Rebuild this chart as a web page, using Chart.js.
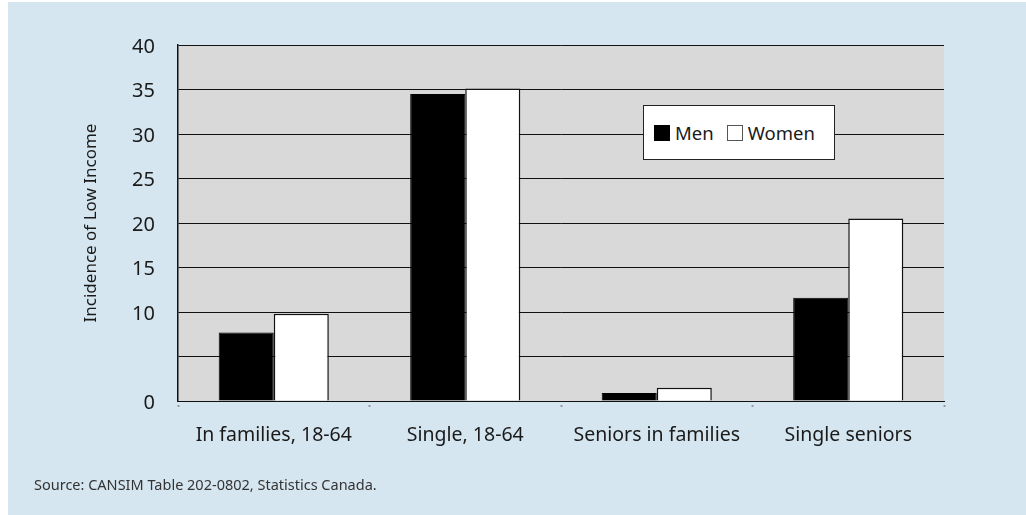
<!DOCTYPE html>
<html>
<head>
<meta charset="utf-8">
<script src="https://cdn.jsdelivr.net/npm/chart.js@4"></script>
<style>
  html, body { margin: 0; padding: 0; background: #fff; }
  body { width: 1026px; height: 515px; position: relative; overflow: hidden; font-family: "Noto Sans", sans-serif; }
  #panel { position: absolute; left: 8px; top: 2px; width: 1018px; height: 513px; background: #d5e6f0; }
  #wrap { position: absolute; left: 0; top: 0; width: 1026px; height: 515px; }
  #legend {
    position: absolute; left: 643px; top: 105px; width: 190px; height: 53px;
    background: #fff; border: 1.5px solid #222; display: flex; align-items: center;
    font-size: 18.5px; color: #1a1a1a;
  }
  .item { display: flex; align-items: center; margin-left: 10px; }
  .item + .item { margin-left: 13px; }
  .sw { width: 16px; height: 16px; box-sizing: border-box; margin-right: 5px; }
  #source { position: absolute; left: 34px; top: 474px; font-size: 14.5px; color: #333; }
</style>
</head>
<body>
<div id="panel"></div>
<div id="wrap"><canvas id="myChart" width="1026" height="515"></canvas></div>
<div id="legend"></div>
<div id="source">Source: CANSIM Table 202-0802, Statistics Canada.</div>
<script>
const categories = ["In families, 18-64", "Single, 18-64", "Seniors in families", "Single seniors"];
const seriesNames = ["Men", "Women"];
const menValues = [7.7, 34.5, 0.9, 11.6];
const womenValues = [9.8, 35.1, 1.5, 20.5];
const yTickValues = [0, 5, 10, 15, 20, 25, 30, 35, 40];
const yTickLabels = ["0", "", "10", "15", "20", "25", "30", "35", "40"];
const fillColors = ["#000000", "#ffffff"];

const plotBg = {
  id: 'plotBg',
  beforeDraw(chart) {
    const { ctx, chartArea } = chart;
    ctx.save();
    ctx.fillStyle = '#d9d9d9';
    ctx.fillRect(chartArea.left, chartArea.top, chartArea.right - chartArea.left, chartArea.bottom - chartArea.top);
    ctx.restore();
  }
};

const family = '"Noto Sans", sans-serif';

const data = {
  labels: categories,
  datasets: [{
    label: seriesNames[0],
    data: menValues,
    backgroundColor: fillColors[0],
    borderColor: '#000',
    borderWidth: 1
  },
  {
    label: seriesNames[1],
    data: womenValues,
    backgroundColor: fillColors[1],
    borderColor: '#111',
    borderWidth: 1.5
  }]
};

const config = {
  type: 'bar',
  data,
  plugins: [plotBg],
  options: {
    responsive: false,
    animation: false,
    layout: { padding: { left: 80, right: 82, top: 45, bottom: 0 } },
    datasets: { bar: { categoryPercentage: 0.575, barPercentage: 1 } },
    plugins: { legend: { display: false }, tooltip: { enabled: false } },
    scales: {
      x: {
        afterFit: s => { s.height = 114; },
        grid: { offset: true, drawOnChartArea: false, drawTicks: true, tickLength: 6, tickColor: '#999', tickWidth: 2, tickBorderDash: [0, 3, 3] },
        border: { display: true, color: '#111', width: 1 },
        ticks: { color: '#1a1a1a', font: { family, size: 19.5 }, padding: 17 }
      },
      y: {
        min: 0,
        max: 40,
        afterFit: s => { s.width = 98; },
        afterBuildTicks: s => { s.ticks = yTickValues.map(v => ({ value: v })); },
        grid: { color: '#111', lineWidth: 1, drawTicks: false },
        border: { display: true, color: '#111', width: 1.5 },
        ticks: {
          color: '#1a1a1a', font: { family, size: 20 }, padding: 23, labelOffset: 2,
          callback: (v) => yTickLabels[yTickValues.indexOf(v)] ?? ''
        },
        title: { display: true, text: 'Incidence of Low Income', color: '#1a1a1a', font: { family, size: 17 }, padding: { top: 1, bottom: 0 } }
      }
    }
  }
};

new Chart(document.getElementById('myChart'), config);

const legend = document.getElementById('legend');
seriesNames.forEach((name, i) => {
  const item = document.createElement('div');
  item.className = 'item';
  const sw = document.createElement('div');
  sw.className = 'sw';
  sw.style.background = fillColors[i];
  sw.style.border = i === 0 ? '1px solid #000' : '1px solid #555';
  const t = document.createElement('span');
  t.textContent = name;
  item.appendChild(sw);
  item.appendChild(t);
  legend.appendChild(item);
});
</script>
</body>
</html>
